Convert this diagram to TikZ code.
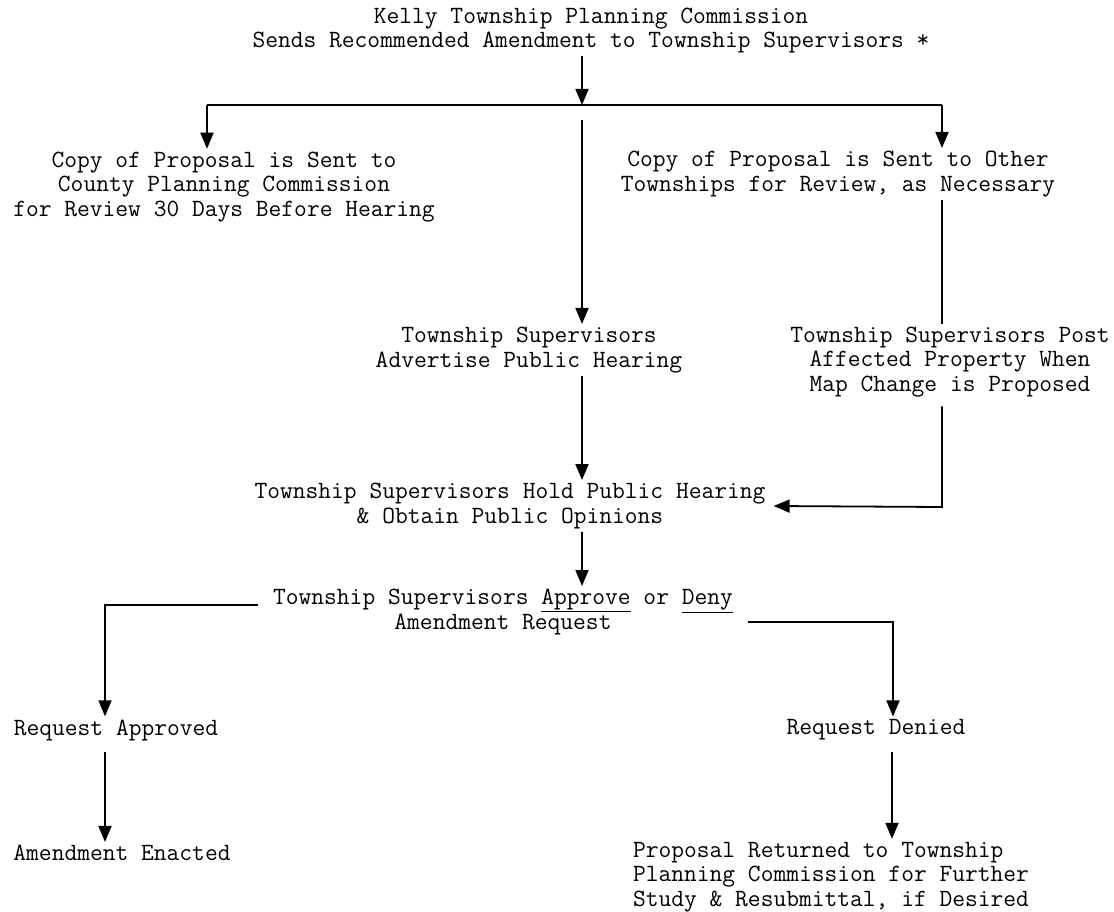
\documentclass[tikz,border=0pt]{standalone}
\usepackage{fontspec}
\usetikzlibrary{arrows.meta}

\tikzstyle{txt} = [align=center, inner sep=3pt, font=\ttfamily\fontsize{24.8}{24.5}\selectfont]
\tikzstyle{line} = [line width=1.8pt]
\tikzstyle{arrow} = [line width=1.8pt,-{Triangle[width=13pt,length=16pt]}]

\begin{document}
\begin{tikzpicture}[x=1pt,y=-1pt]
	\useasboundingbox (0,0) rectangle (1114,912);

	\node (top) [txt] at (591,30.5) {Kelly Township Planning Commission\\Sends Recommended Amendment to Township Supervisors *};
	\node (county) [txt] at (224,187) {Copy of Proposal is Sent to\\County Planning Commission\\for Review 30 Days Before Hearing};
	\node (other) [txt] at (838,174) {Copy of Proposal is Sent to Other\\Townships for Review, as Necessary};
	\node (advertise) [txt] at (529,350) {Township Supervisors\\Advertise Public Hearing};
	\node (post) [txt] at (950,362) {Township Supervisors Post\\Affected Property When\\Map Change is Proposed};
	\node (hearing) [txt] at (510,506) {Township Supervisors Hold Public Hearing\\\& Obtain Public Opinions};
	\node (decide) [txt] at (503,612) {Township Supervisors \underline{Approve} or \underline{Deny}\\Amendment Request};
	\node (approved) [txt] at (116,730) {Request Approved};
	\node (enacted) [txt] at (122,853) {Amendment Enacted};
	\node (denied) [txt] at (876,730) {Request Denied};
	\node (returned) [txt, align=left] at (831,877) {Proposal Returned to Township\\Planning Commission for Further\\Study \& Resubmittal, if Desired};

	\coordinate (split) at (582,105);
	\coordinate (lft) at (207,105);
	\coordinate (rgt) at (942,105);
	\coordinate (midtop) at (582,120);
	\coordinate (join) at (942,507);

	%arrow
	\draw [arrow] (top.south -| split) -- (split);
	\draw [line] (lft) -- (rgt);
	\draw [arrow] (lft) -- (lft |- county.north);
	\draw [arrow] (rgt) -- (rgt |- other.north);
	\draw [arrow] (midtop) -- (midtop |- advertise.north);
	\draw [line] (other.south -| rgt) -- (post.north -| rgt);
	\draw [arrow] ([yshift=-6]post.south -| join) -- (join) -- ([xshift=5]hearing.east);
	\draw [arrow] (advertise.south -| split) -- (hearing.north -| split);
	\draw [arrow] (hearing.south -| split) -- (decide.north -| split);
	\draw [arrow] ([shift={(-12,-7)}]decide.west) -| ([xshift=-11]approved.north);
	\draw [arrow] ([shift={(12,10)}]decide.east) -| ([xshift=17]denied.north);
	\draw [arrow] ([shift={(-11,8)}]approved.south) -- ([xshift=-11]approved.south |- enacted.north);
	\draw [arrow] ([shift={(16,8)}]denied.south) -- ([xshift=16]denied.south |- returned.north);

\end{tikzpicture}
\end{document}
